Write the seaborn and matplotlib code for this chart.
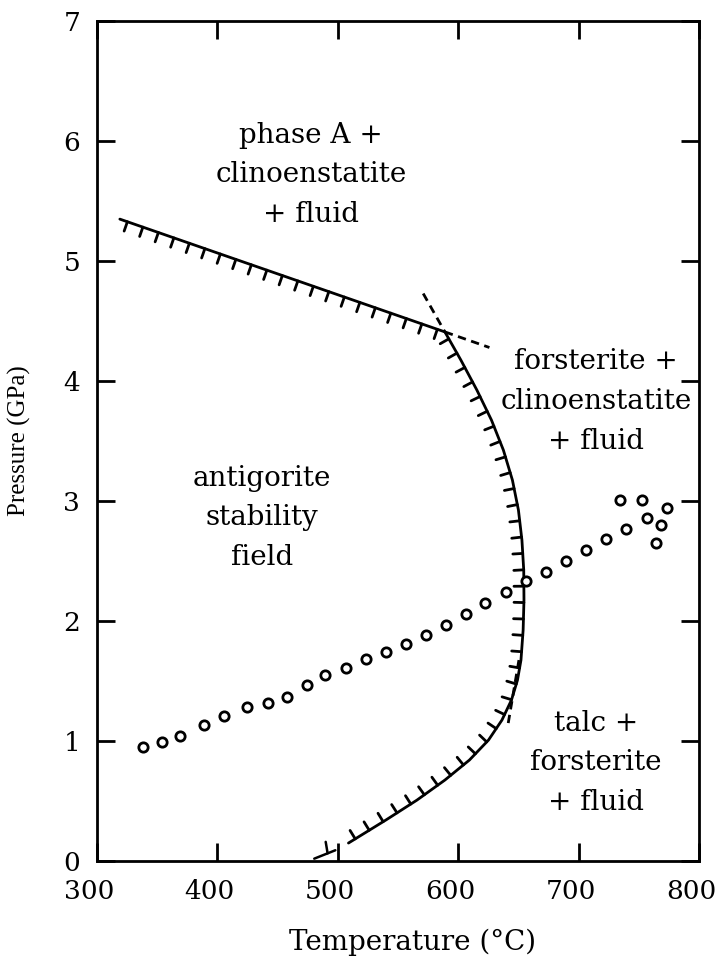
import numpy as np
import pandas as pd
import seaborn as sns
import matplotlib.pyplot as plt
from matplotlib import patheffects
from matplotlib.transforms import ScaledTranslation

# open circles (experimental P-T points)
temp_pts = [338.5, 353.7, 368.9, 389.1, 405.7, 424.6, 441.8, 457.6, 474.2, 489.4,
            506.6, 523.2, 539.8, 556.4, 573.0, 589.6, 606.5, 622.3, 639.5, 656.3,
            672.9, 689.5, 706.1, 722.8, 739.4, 734.4, 752.9, 773.2, 756.6, 768.2, 764.0]
pres_pts = [0.95, 0.99, 1.04, 1.13, 1.21, 1.28, 1.32, 1.37, 1.47, 1.55,
            1.61, 1.68, 1.74, 1.81, 1.88, 1.97, 2.06, 2.15, 2.24, 2.33,
            2.41, 2.50, 2.59, 2.68, 2.77, 3.01, 3.01, 2.94, 2.86, 2.80, 2.65]

# antigorite -> phase A + clinoenstatite + fluid
temp_hi = [319.0, 589.0]
pres_hi = [5.35, 4.41]

# antigorite -> forsterite + clinoenstatite / talc + forsterite (top to bottom)
temp_curve = [589.0, 602.3, 615.6, 627.7, 637.6, 645.1, 650.1, 653.0, 654.5, 654.7,
              654.0, 652.2, 649.3, 644.3, 636.4, 625.2, 609.4, 589.0, 565.8, 540.0,
              508.9]
pres_curve = [4.41, 4.175, 3.925, 3.675, 3.425, 3.175, 2.925, 2.675, 2.425, 2.175,
              1.925, 1.675, 1.508, 1.342, 1.175, 1.008, 0.842, 0.675, 0.508, 0.342,
              0.15]

# metastable extensions (dashed)
temp_ext_hi = [589.0, 626.0]
pres_ext_hi = [4.41, 4.28]
temp_ext_curve = [571.0, 589.0]
pres_ext_curve = [4.73, 4.41]
temp_talc = [650.5, 641.6]
pres_talc = [1.675, 1.148]

# short segment below the curve end
temp_low = [480.5, 498.0]
pres_low = [0.02, 0.09]
temp_low_tick = [491.6, 490.0]
pres_low_tick = [0.064, 0.16]

field_labels = ["phase A +\nclinoenstatite\n+ fluid",
                "antigorite\nstability\nfield",
                "forsterite +\nclinoenstatite\n+ fluid",
                "talc +\nforsterite\n+ fluid"]
field_temp = [477.7, 437.0, 714.7, 714.3]
field_pres = [5.72, 2.86, 3.83, 0.82]

x_ticks = [300, 400, 500, 600, 700, 800]
y_ticks = [0, 1, 2, 3, 4, 5, 6, 7]

sns.set_theme(style="ticks")
plt.rcParams['font.family'] = ['DejaVu Serif']
plt.rcParams.update({
    'axes.linewidth': 2.0,
    'axes.edgecolor': 'black',
    'xtick.direction': 'in',
    'ytick.direction': 'in',
    'xtick.top': True,
    'ytick.right': True,
    'xtick.major.size': 13,
    'ytick.major.size': 13,
    'xtick.major.width': 2.0,
    'ytick.major.width': 2.0,
    'xtick.color': 'black',
    'ytick.color': 'black',
})

fig, ax = plt.subplots(figsize=(7.22, 9.61), dpi=100)
fig.subplots_adjust(left=0.1343, right=0.968, bottom=0.104, top=0.978)

hatched = [patheffects.withTickedStroke(angle=-90, spacing=11.5, length=0.62)]

sns.lineplot(x=temp_hi, y=pres_hi, sort=False, estimator=None, color='black',
             lw=2.0, path_effects=hatched, ax=ax)
sns.lineplot(x=temp_curve, y=pres_curve, sort=False, estimator=None, color='black',
             lw=2.0, path_effects=hatched, ax=ax)

for tx, py in [(temp_ext_hi, pres_ext_hi), (temp_ext_curve, pres_ext_curve),
               (temp_talc, pres_talc)]:
    ax.plot(tx, py, color='black', lw=2.0, dashes=(3.0, 2.0))

ax.plot(temp_low, pres_low, color='black', lw=1.8)
ax.plot(temp_low_tick, pres_low_tick, color='black', lw=1.8)

sns.scatterplot(x=temp_pts, y=pres_pts, marker='o', s=45, facecolor='white',
                edgecolor='black', linewidth=2.0, zorder=5, ax=ax)

for lab, t, p in zip(field_labels, field_temp, field_pres):
    ax.text(t, p, lab, ha='center', va='center', fontsize=20, linespacing=1.6,
            color='black')

ax.set_xlim(300, 800)
ax.set_ylim(0, 7)
ax.set_xticks(x_ticks)
ax.set_yticks(y_ticks)
ax.tick_params(axis='x', labelsize=19, pad=13)
ax.tick_params(axis='y', labelsize=19, pad=12)

# labels sit a little left of their ticks in the original
shift = ScaledTranslation(-8 / 100, 0, fig.dpi_scale_trans)
for lbl in ax.get_xticklabels():
    lbl.set_transform(lbl.get_transform() + shift)

ax.set_xlabel("Temperature (°C)", fontsize=20, color='black')
ax.xaxis.set_label_coords(0.525, -0.08)
ax.set_ylabel("Pressure (GPa)", fontsize=18, color='black', family='Liberation Serif')
ax.yaxis.set_label_coords(-0.11, 0.5)

fig.savefig("out.png", dpi=100, facecolor='white')
